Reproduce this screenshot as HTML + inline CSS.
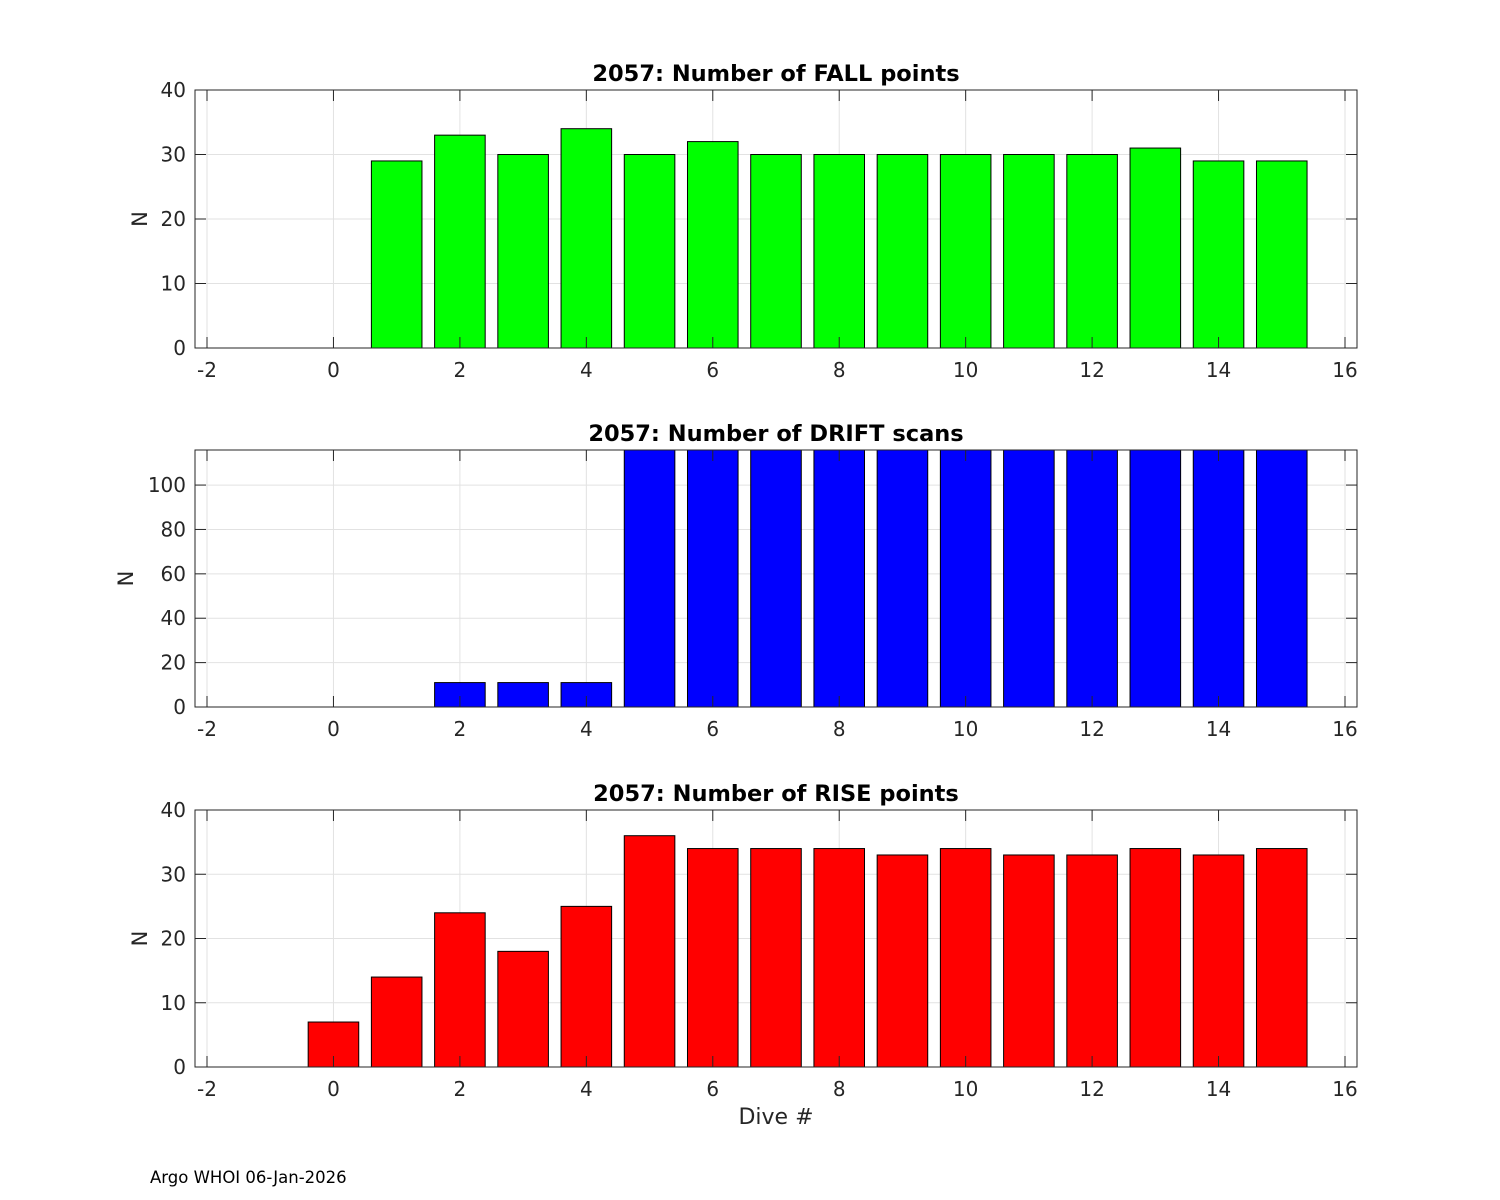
<!DOCTYPE html>
<html><head><meta charset="utf-8"><style>
body{margin:0;background:#fff;}
svg{display:block;font-family:"DejaVu Sans","Liberation Sans",sans-serif;}
</style></head><body>
<svg id="chart" width="1500" height="1200" viewBox="0 0 1500 1200">
<rect width="1500" height="1200" fill="#fff"/>
<text x="150" y="1183" font-size="16.5" fill="#000">Argo WHOI 06-Jan-2026</text>
</svg>
<script>
const fallDives=[1,2,3,4,5,6,7,8,9,10,11,12,13,14,15];
const fallValues=[29,33,30,34,30,32,30,30,30,30,30,30,31,29,29];
const driftDives=[2,3,4,5,6,7,8,9,10,11,12,13,14,15];
const driftValues=[11,11,11,116,116,116,116,116,116,116,116,116,116,116];
const riseDives=[0,1,2,3,4,5,6,7,8,9,10,11,12,13,14,15];
const riseValues=[7,14,24,18,25,36,34,34,34,33,34,33,33,34,33,34];
const xTicks=[-2,0,2,4,6,8,10,12,14,16];
const yTicksA=[0,10,20,30,40];
const yTicksB=[0,20,40,60,80,100];
const yTicksC=[0,10,20,30,40];

const NS='http://www.w3.org/2000/svg';
const svg=document.getElementById('chart');
function el(tag,attrs,parent){const e=document.createElementNS(NS,tag);for(const k in attrs)e.setAttribute(k,attrs[k]);(parent||svg).appendChild(e);return e;}
const L=195,R=1357,xmin=-2.19,xmax=16.19;
function xs(v){return L+(v-xmin)/(xmax-xmin)*(R-L);}

function panel(name,top,bottom,ymax,yTicks,dives,vals,color,title,showXLabel){
  const g=el('g',{});
  
  
  const ys=v=>bottom-v/ymax*(bottom-top);
  el('rect',{x:L,y:top,width:R-L,height:bottom-top,fill:'#fff'},g);
  xTicks.forEach(t=>{el('line',{x1:xs(t),x2:xs(t),y1:top,y2:bottom,stroke:'#e2e2e2','stroke-width':1},g);});
  yTicks.forEach(t=>{el('line',{x1:L,x2:R,y1:ys(t),y2:ys(t),stroke:'#e2e2e2','stroke-width':1},g);});
  const bw=0.8;
  dives.forEach((d,i)=>{
    const v=Math.min(vals[i],ymax);
    const b=el('rect',{x:xs(d-bw/2),y:ys(v),width:xs(d+bw/2)-xs(d-bw/2),height:bottom-ys(v),fill:color,stroke:'#000','stroke-width':1},g);
    
    
  });
  el('rect',{x:L,y:top,width:R-L,height:bottom-top,fill:'none',stroke:'#262626','stroke-width':1},g);
  xTicks.forEach(t=>{
    const x=xs(t);
    el('line',{x1:x,x2:x,y1:bottom,y2:bottom-11,stroke:'#262626'},g);
    el('line',{x1:x,x2:x,y1:top,y2:top+11,stroke:'#262626'},g);
    const tx=el('text',{x:x,y:bottom+29,'font-size':20,'text-anchor':'middle',fill:'#262626'},g);
    tx.textContent=t;
    
    
  });
  yTicks.forEach(t=>{
    const y=ys(t);
    el('line',{x1:L,x2:L+11,y1:y,y2:y,stroke:'#262626'},g);
    el('line',{x1:R,x2:R-11,y1:y,y2:y,stroke:'#262626'},g);
    const tx=el('text',{x:L-9,y:y+7,'font-size':20,'text-anchor':'end',fill:'#262626'},g);
    tx.textContent=t;
    
    
  });
  const ttl=el('text',{x:(L+R)/2,y:top-9,'font-size':22.5,'font-weight':'bold','text-anchor':'middle',fill:'#000'},g);
  ttl.textContent=title;
  
  
  const yl=el('text',{x:0,y:0,'font-size':21,'text-anchor':'middle',fill:'#262626',transform:'translate('+(yTicks[yTicks.length-1]>=100?133:147)+','+((top+bottom)/2)+') rotate(-90)'},g);
  yl.textContent='N';
  
  
  if(showXLabel){
    const xl=el('text',{x:(L+R)/2,y:bottom+57,'font-size':22,'text-anchor':'middle',fill:'#262626'},g);
    xl.textContent='Dive #';
    
    
  }
}
panel('fall',90,348,40,yTicksA,fallDives,fallValues,'#00ff00','2057: Number of FALL points',false);
panel('drift',450,707,115.8,yTicksB,driftDives,driftValues,'#0000ff','2057: Number of DRIFT scans',false);
panel('rise',810,1067,40,yTicksC,riseDives,riseValues,'#ff0000','2057: Number of RISE points',true);
</script>
</body></html>
